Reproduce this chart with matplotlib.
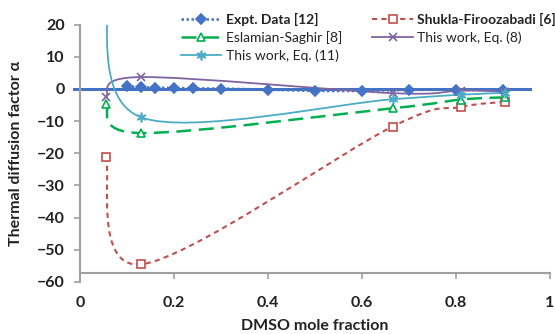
import numpy as np
import matplotlib
matplotlib.use('Agg')
import matplotlib.pyplot as plt
from matplotlib.path import Path
from matplotlib.patches import PathPatch
from matplotlib.lines import Line2D

plt.rcParams['font.family'] = ['Lato', 'DejaVu Sans']

# experimental data
expt_x = [0.10, 0.13, 0.16, 0.20, 0.24, 0.30, 0.40, 0.50, 0.60, 0.70, 0.80, 0.90]
expt_y = [0.8, 0.5, 0.4, 0.3, 0.2, 0.1, -0.2, -0.6, -0.6, -0.3, -0.3, -0.4]

# model predictions
model_x = [0.055, 0.13, 0.665, 0.81, 0.905]
shukla_y = [-21.0, -54.5, -11.7, -5.6, -4.0]
eslamian_y = [-4.6, -13.7, -6.0, -3.3, -2.6]
eq8_y = [-2.4, 3.7, -1.3, -0.5, -0.8]
eq11_y = [30.0, -8.8, -3.2, -1.8, -1.2]

x_ticks = [0, 0.2, 0.4, 0.6, 0.8, 1]
x_tick_labels = ['0', '0.2', '0.4', '0.6', '0.8', '1']
y_ticks = [-60, -50, -40, -30, -20, -10, 0, 10, 20]


def smooth_path(xs, ys):
    # excel style smoothed line (catmull-rom as cubic bezier segments)
    pts = np.column_stack([xs, ys]).astype(float)
    n = len(pts)
    verts = [pts[0]]
    codes = [Path.MOVETO]
    for i in range(n - 1):
        p0 = pts[max(i - 1, 0)]
        p1 = pts[i]
        p2 = pts[i + 1]
        p3 = pts[min(i + 2, n - 1)]
        verts += [p1 + (p2 - p0) / 6.0, p2 - (p3 - p1) / 6.0, p2]
        codes += [Path.CURVE4] * 3
    return Path(verts, codes)


def plot_series(ax, xs, ys, color, ls, lw, marker, ms, mfc, label, dashes=None):
    patch = PathPatch(smooth_path(xs, ys), facecolor='none', edgecolor=color,
                      linewidth=lw, linestyle=ls, zorder=3)
    if dashes is not None:
        patch.set_linestyle((0, dashes))
    ax.add_patch(patch)
    ax.plot(xs, ys, linestyle='none', marker=marker, markersize=ms, color=color,
            markerfacecolor=mfc, markeredgecolor=color, markeredgewidth=1.2, zorder=4)
    h = Line2D([], [], color=color, linewidth=lw, linestyle=ls, marker=marker,
               markersize=ms, markerfacecolor=mfc, markeredgecolor=color, markeredgewidth=1.2)
    if dashes is not None:
        h.set_dashes(dashes)
    h.set_label(label)
    return h


fig = plt.figure(figsize=(5.55, 3.34), dpi=100)
ax = fig.add_axes([0.1441, 0.1557, 0.8468, 0.7706])

blue = '#4472C4'
red = '#C0504D'
green = '#00B050'
purple = '#8064A2'
cyan = '#4BACC6'

ax.axhline(0, xmin=-0.013, xmax=0.957, color=blue, linewidth=2.2, clip_on=False, zorder=2)

h_expt = plot_series(ax, expt_x, expt_y, blue, ':', 1.8, 'D', 5.5, blue, 'Expt. Data [12]', dashes=(1, 1))
h_shukla = plot_series(ax, model_x, shukla_y, red, '--', 1.5, 's', 6, 'white', 'Shukla-Firoozabadi [6]', dashes=(2.5, 2))
h_esl = plot_series(ax, model_x, eslamian_y, green, '--', 1.8, '^', 6, 'white', 'Eslamian-Saghir [8]', dashes=(6, 3))
h_eq8 = plot_series(ax, model_x, eq8_y, purple, '-', 1.3, 'x', 6, purple, 'This work, Eq. (8)')
h_eq11 = plot_series(ax, model_x, eq11_y, cyan, '-', 1.3, (6, 2, 0), 7, cyan, 'This work, Eq. (11)')

ax.set_xlim(0, 1)
ax.set_ylim(-60, 20)
ax.set_xticks(x_ticks)
ax.set_xticklabels(x_tick_labels)
ax.set_yticks(y_ticks)

for s in ['top', 'right']:
    ax.spines[s].set_visible(False)
ax.spines['left'].set_color('#A0A0A0')
ax.spines['left'].set_linewidth(1.5)
ax.spines['bottom'].set_color('#A0A0A0')
ax.spines['bottom'].set_linewidth(1.5)
ax.spines['bottom'].set_position(('data', -57.1))
ax.tick_params(axis='both', colors='#A0A0A0', length=4, width=1.2, labelcolor='#222222')
ax.tick_params(axis='y', pad=7)
ax.tick_params(axis='x', pad=13)
for lab in ax.get_xticklabels() + ax.get_yticklabels():
    lab.set_fontweight('bold')
    lab.set_fontsize(11.5)

ax.set_xlabel('DMSO mole fraction', fontsize=11.5, fontweight='bold', color='#222222', labelpad=6)
ax.set_ylabel('Thermal diffusion factor α', fontsize=11.5, fontweight='bold', color='#222222', labelpad=10)

leg = fig.legend(handles=[h_expt, h_esl, h_eq11, h_shukla, h_eq8], ncol=2, loc='upper left',
                 bbox_to_anchor=(0.314, 0.982), frameon=False, fontsize=10,
                 handlelength=2.9, handletextpad=0.3, columnspacing=2.2,
                 labelspacing=0.38, borderpad=0)
for txt in leg.get_texts():
    txt.set_color('#222222')
leg.get_texts()[0].set_fontweight('bold')
leg.get_texts()[3].set_fontweight('bold')

fig.savefig('out.png', dpi=100)
